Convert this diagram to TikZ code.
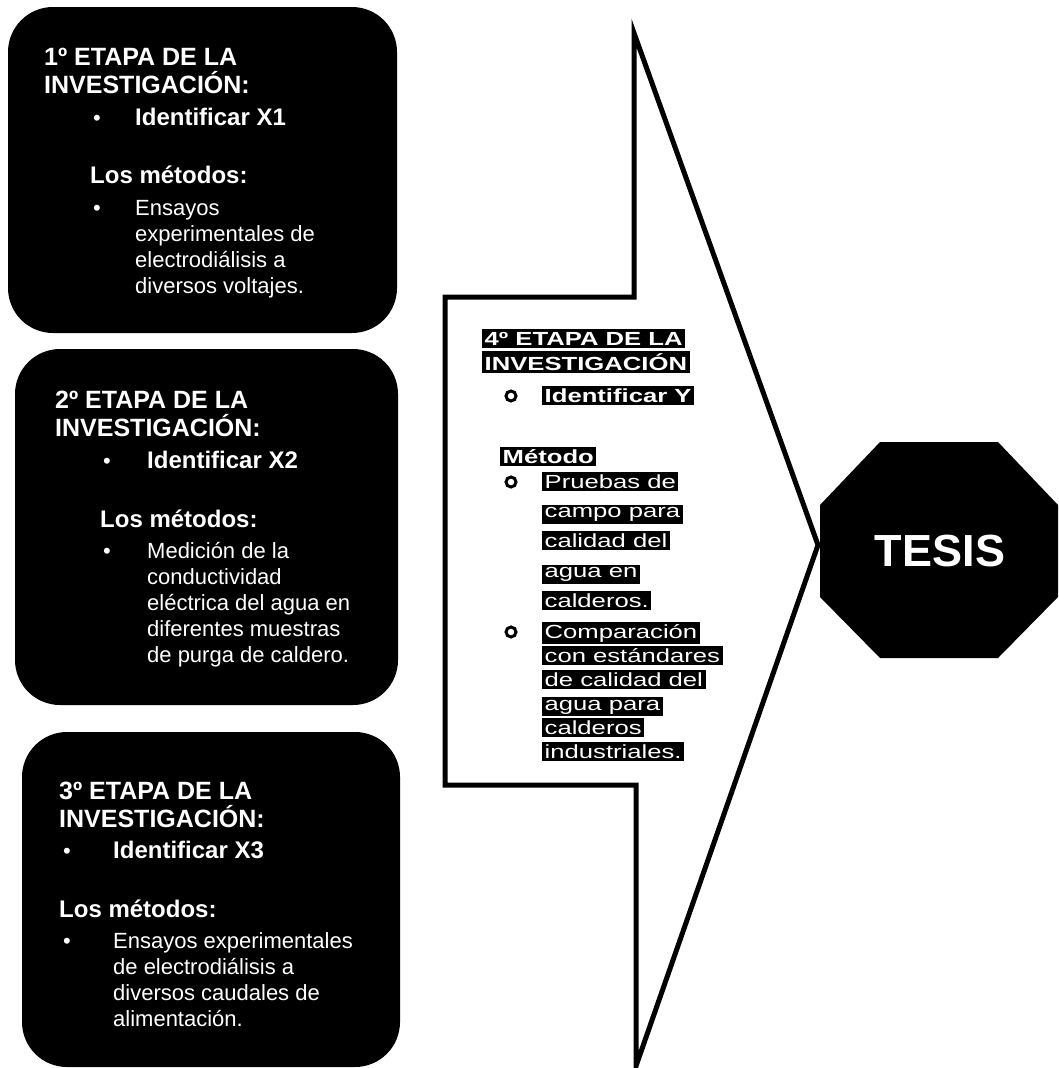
\documentclass[tikz,border=0pt]{standalone}
\usepackage{fontspec}
\setmainfont{Liberation Sans}
\newfontfamily\widefont[FakeStretch=1.35]{Liberation Sans}
\usetikzlibrary{positioning}

% white words on a black patch, one patch for each line
\setlength{\fboxsep}{2.5pt}
\newcommand\blk[1]{\colorbox{black}{\color{white}#1}}

\tikzset{
  stage/.style={fill=black, rounded corners=45pt, inner sep=0pt},
  title/.style={anchor=base west, align=left, inner sep=0pt, text=white,
                font=\bfseries\fontsize{25}{28.5}\selectfont},
  head/.style={anchor=base west, inner sep=0pt, text=white,
               font=\bfseries\fontsize{24}{28}\selectfont},
  item/.style={anchor=base west, align=left, inner sep=0pt, text=white,
               font=\fontsize{22}{26}\selectfont},
  bul/.style={anchor=base west, inner sep=0pt, text=white,
              font=\fontsize{22}{26}\selectfont},
  outlhead/.style={anchor=base west, align=left, inner sep=0pt,
                   font=\widefont\bfseries\fontsize{19}{25}\selectfont},
  outlitem/.style={anchor=base west, align=left, inner sep=0pt,
                   font=\widefont\fontsize{19}{24}\selectfont},
  ring/.style={circle, draw=black, line width=3pt, fill=white,
               inner sep=0pt, minimum size=10pt},
}

\begin{document}
\begin{tikzpicture}[x=1pt, y=-1pt]
    \useasboundingbox (0,0) rectangle (1058,1068);

    % first stage (multi-line nodes sit on their last baseline)
    \node[stage, minimum width=389pt, minimum height=326pt] (stage1) at (202.5,170) {};
    \node[title] (t1) at (44,93.5) {1º ETAPA DE LA\\INVESTIGACIÓN:};
    \node[bul] (b1a) at (93,125) {•};
    \node[head] (x1) at (135,125) {Identificar X1};
    \node[head] (m1) at (90,183) {Los métodos:};
    \node[bul] (b1b) at (93,215) {•};
    \node[item] (e1) at (135,293) {Ensayos\\experimentales de\\electrodiálisis a\\diversos voltajes.};

    % second stage
    \node[stage, minimum width=383pt, minimum height=356pt] (stage2) at (206.5,527) {};
    \node[title] (t2) at (55,436.5) {2º ETAPA DE LA\\INVESTIGACIÓN:};
    \node[bul] (b2a) at (103,468) {•};
    \node[head] (x2) at (147,468) {Identificar X2};
    \node[head] (m2) at (100,527) {Los métodos:};
    \node[bul] (b2b) at (103,558) {•};
    \node[item] (e2) at (147,662) {Medición de la\\conductividad\\eléctrica del agua en\\diferentes muestras\\de purga de caldero.};

    % third stage
    \node[stage, minimum width=378pt, minimum height=335pt] (stage3) at (211,899.5) {};
    \node[title] (t3) at (59,827.5) {3º ETAPA DE LA\\INVESTIGACIÓN:};
    \node[bul] (b3a) at (63,858) {•};
    \node[head] (x3) at (113,858) {Identificar X3};
    \node[head] (m3) at (59,917) {Los métodos:};
    \node[bul] (b3b) at (63,948) {•};
    \node[item] (e3) at (113,1026) {Ensayos experimentales\\de electrodiálisis a\\diversos caudales de\\alimentación.};

    % fourth stage, inside the big arrow
    \draw[line width=5pt, fill=white] (445,297) -- (634,297) -- (634,33) -- (818,545)
        -- (636,1066) -- (636,785) -- (445,785) -- cycle;
    \node[outlhead] (t4) at (482,370) {\blk{4º ETAPA DE LA}\\\blk{INVESTIGACIÓN}};
    \node[ring] (b4a) at (511,396) {};
    \node[outlhead] (y4) at (542,402) {\blk{Identificar Y}};
    \node[outlhead] (m4) at (500,463) {\blk{Método}};
    \node[ring] (b4b) at (511,482) {};
    \node[outlitem, font=\widefont\fontsize{19}{29.7}\selectfont] (e4a) at (542,607)
        {\blk{Pruebas de}\\\blk{campo para}\\\blk{calidad del}\\\blk{agua en}\\\blk{calderos.}};
    \node[ring] (b4c) at (511,632) {};
    \node[outlitem] (e4b) at (542,758)
        {\blk{Comparación}\\\blk{con estándares}\\\blk{de calidad del}\\\blk{agua para}\\\blk{calderos}\\\blk{industriales.}};

    % thesis
    \fill (880,442) -- (998,442) -- (1058,505) -- (1058,597) -- (998,658)
        -- (880,658) -- (820,597) -- (820,505) -- cycle;
    \node[text=white, font=\bfseries\fontsize{45}{50}\selectfont] (tesis) at (940,551) {TESIS};
\end{tikzpicture}
\end{document}
